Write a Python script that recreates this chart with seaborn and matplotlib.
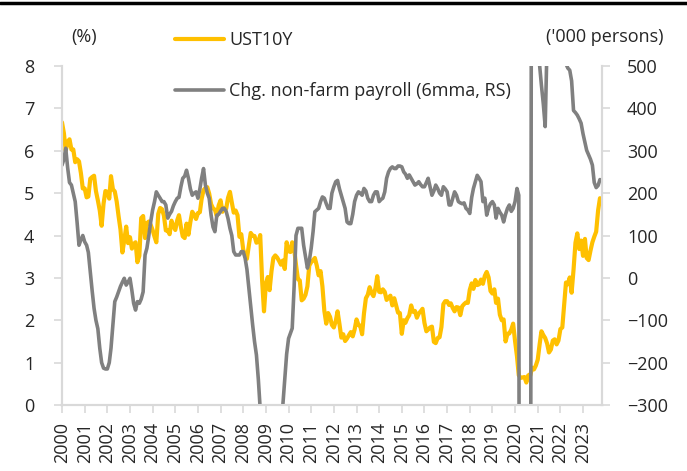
import matplotlib
matplotlib.use("Agg")
import matplotlib.pyplot as plt
import matplotlib.dates as mdates
from matplotlib.lines import Line2D
import numpy as np
import pandas as pd
import seaborn as sns

# ---------------------------------------------------------------------------
# Data (monthly, Jan 2000 - Oct 2023)
# ---------------------------------------------------------------------------
ust10y = [
    6.67, 6.41, 6.00, 6.21, 6.27, 6.03, 6.03, 5.73, 5.80, 5.75, 5.47, 5.11,   # 2000
    5.11, 4.90, 4.92, 5.34, 5.38, 5.41, 5.05, 4.83, 4.59, 4.23, 4.75, 5.05,   # 2001
    5.03, 4.87, 5.40, 5.09, 5.04, 4.80, 4.46, 4.14, 3.60, 3.89, 4.21, 3.82,   # 2002
    3.96, 3.69, 3.80, 3.84, 3.37, 3.52, 4.41, 4.46, 3.94, 4.29, 4.33, 4.25,   # 2003
    4.13, 3.97, 3.84, 4.51, 4.65, 4.62, 4.47, 4.12, 4.12, 4.03, 4.35, 4.22,   # 2004
    4.13, 4.36, 4.48, 4.20, 3.98, 3.94, 4.28, 4.02, 4.32, 4.56, 4.49, 4.39,   # 2005
    4.53, 4.55, 4.86, 5.07, 5.12, 5.14, 4.99, 4.74, 4.64, 4.61, 4.46, 4.71,   # 2006
    4.83, 4.56, 4.65, 4.63, 4.89, 5.03, 4.78, 4.54, 4.59, 4.48, 3.97, 4.03,   # 2007
    3.67, 3.53, 3.45, 3.77, 4.06, 3.99, 3.99, 3.83, 3.85, 4.01, 2.93, 2.21,   # 2008
    2.87, 3.02, 2.71, 3.16, 3.47, 3.53, 3.48, 3.40, 3.31, 3.41, 3.21, 3.84,   # 2009
    3.63, 3.61, 3.84, 3.69, 3.31, 2.97, 2.94, 2.47, 2.51, 2.60, 2.80, 3.29,   # 2010
    3.37, 3.42, 3.47, 3.29, 3.06, 3.16, 2.80, 2.22, 1.92, 2.17, 2.08, 1.89,   # 2011
    1.83, 1.98, 2.21, 1.91, 1.59, 1.67, 1.51, 1.57, 1.65, 1.72, 1.62, 1.78,   # 2012
    2.02, 1.89, 1.87, 1.67, 2.16, 2.52, 2.60, 2.78, 2.64, 2.57, 2.75, 3.04,   # 2013
    2.67, 2.66, 2.73, 2.67, 2.48, 2.53, 2.58, 2.35, 2.52, 2.35, 2.18, 2.17,   # 2014
    1.68, 2.00, 1.94, 2.05, 2.12, 2.35, 2.20, 2.22, 2.06, 2.16, 2.21, 2.27,   # 2015
    1.94, 1.74, 1.78, 1.83, 1.85, 1.49, 1.46, 1.58, 1.60, 1.84, 2.38, 2.45,   # 2016
    2.45, 2.36, 2.40, 2.29, 2.21, 2.31, 2.30, 2.12, 2.33, 2.38, 2.42, 2.41,   # 2017
    2.72, 2.87, 2.74, 2.95, 2.83, 2.85, 2.96, 2.86, 3.05, 3.14, 3.01, 2.69,   # 2018
    2.63, 2.73, 2.41, 2.51, 2.13, 2.00, 2.02, 1.50, 1.68, 1.69, 1.78, 1.92,   # 2019
    1.51, 1.15, 0.70, 0.64, 0.65, 0.66, 0.53, 0.70, 0.69, 0.88, 0.84, 0.93,   # 2020
    1.07, 1.44, 1.74, 1.65, 1.58, 1.45, 1.24, 1.31, 1.52, 1.55, 1.43, 1.52,   # 2021
    1.79, 1.83, 2.32, 2.89, 2.85, 3.01, 2.65, 3.19, 3.83, 4.05, 3.68, 3.88,   # 2022
    3.52, 3.92, 3.47, 3.42, 3.64, 3.84, 3.97, 4.09, 4.59, 4.88,               # 2023
]

nfp_6mma = [
    266, 280, 306, 260, 225, 219, 200, 180, 130, 77, 90, 100,                 # 2000
    85, 77, 60, 14, -30, -72, -100, -120, -166, -200, -213, -215,             # 2001
    -215, -200, -166, -110, -56, -45, -33, -20, -10, -1, -17, -10,            # 2002
    -1, -30, -60, -76, -56, -60, -50, -33, 54, 70, 100, 132,                  # 2003
    160, 180, 203, 195, 188, 180, 180, 172, 141, 150, 157, 170,               # 2004
    180, 188, 190, 215, 235, 240, 254, 235, 210, 195, 200, 203,               # 2005
    188, 210, 235, 258, 219, 200, 188, 148, 120, 109, 148, 150,               # 2006
    157, 164, 164, 157, 140, 117, 100, 62, 54, 54, 54, 62,                    # 2007
    62, 46, 20, -25, -70, -111, -150, -182, -240, -310, -420, -520,           # 2008
    -600, -680, -720, -730, -700, -620, -530, -450, -380, -300, -240, -180,   # 2009
    -143, -130, -119, -20, 100, 117, 117, 117, 77, 50, 23, 40,                # 2010
    70, 110, 156, 160, 164, 180, 191, 188, 175, 164, 164, 200,                # 2011
    215, 227, 230, 210, 195, 180, 164, 132, 128, 128, 150, 180,               # 2012
    195, 203, 200, 195, 211, 205, 188, 180, 180, 195, 203, 203,               # 2013
    180, 185, 188, 203, 235, 250, 258, 262, 258, 258, 264, 264,               # 2014
    262, 250, 245, 235, 243, 235, 227, 219, 222, 227, 220, 215,               # 2015
    215, 225, 235, 215, 195, 205, 219, 211, 200, 195, 215, 210,               # 2016
    203, 172, 172, 188, 203, 195, 180, 177, 175, 177, 164, 160,               # 2017
    152, 190, 211, 227, 242, 235, 227, 180, 188, 148, 165, 175,               # 2018
    180, 172, 141, 164, 155, 148, 132, 150, 164, 172, 157, 164,               # 2019
    180, 211, 195, -3400, -3000, -2300, -2000, -1700, -1500, 2035, 1625, 783, # 2020
    560, 500, 455, 410, 357, 560, 640, 640, 600, 580, 560, 590,               # 2021
    600, 580, 530, 505, 495, 490, 465, 395, 390, 384, 375, 365,               # 2022
    340, 320, 301, 290, 280, 266, 225, 213, 218, 232,                         # 2023
]

dates = pd.date_range("2000-01-01", periods=len(ust10y), freq="MS")
year_ticks = list(range(2000, 2024))

YELLOW = "#FFC000"
GREY = "#808080"
SPINE = "#D9D9D9"
FS = 13

# ---------------------------------------------------------------------------
# Plot
# ---------------------------------------------------------------------------
sns.set_style("white")
plt.rcParams["font.family"] = ["Open Sans", "DejaVu Sans"]
plt.rcParams["font.size"] = FS

fig = plt.figure(figsize=(6.87, 4.71), dpi=100)
ax = fig.add_axes([62 / 687, 1 - 405 / 471, 540 / 687, 339 / 471])
ax2 = ax.twinx()

df = pd.DataFrame({"date": dates, "ust": ust10y, "nfp": nfp_6mma})
sns.lineplot(data=df, x="date", y="ust", ax=ax, color=YELLOW, linewidth=3.0)
sns.lineplot(data=df, x="date", y="nfp", ax=ax2, color=GREY, linewidth=2.6)

ax.set_xlim(pd.Timestamp("2000-01-01"), pd.Timestamp("2023-11-03"))
ax.set_ylim(0, 8)
ax2.set_ylim(-300, 500)
ax.set_yticks(range(0, 9))
ax2.set_yticks(range(-300, 501, 100))
ax.set_xticks([pd.Timestamp(f"{y}-01-01") for y in year_ticks])
ax.xaxis.set_major_formatter(mdates.DateFormatter("%Y"))
ax.set_xlabel("")
ax.set_ylabel("")
ax2.set_ylabel("")

for a in (ax, ax2):
    a.spines["top"].set_visible(False)
    for side in ("left", "right", "bottom"):
        a.spines[side].set_color(SPINE)
        a.spines[side].set_linewidth(1.5)

ax.tick_params(axis="y", length=6, width=1.2, color=SPINE, pad=14, labelsize=FS, left=True)
ax2.tick_params(axis="y", length=6, width=1.2, color=SPINE, pad=12, labelsize=FS, right=True)
ax.tick_params(axis="x", length=6, width=1.2, color=SPINE, pad=6, labelsize=FS,
               labelrotation=90, bottom=True)

fig.text(84 / 687, 1 - 37 / 471, "(%)", ha="center", va="center", fontsize=FS)
fig.text(663 / 687, 1 - 37 / 471, "('000 persons)", ha="right", va="center", fontsize=FS)

handles = [Line2D([], [], color=YELLOW, lw=3.0), Line2D([], [], color=GREY, lw=2.6)]
ax.legend(handles, ["UST10Y", "Chg. non-farm payroll (6mma, RS)"],
          loc="upper left", bbox_to_anchor=(175 / 687, 1 - 31 / 471),
          bbox_transform=fig.transFigure, frameon=False, fontsize=FS,
          handlelength=2.7, handletextpad=0.3, labelspacing=1.85,
          borderpad=0, borderaxespad=0)

fig.add_artist(Line2D([0, 1], [1 - 3 / 471, 1 - 3 / 471], color="black", lw=2.5,
                      transform=fig.transFigure))

fig.savefig("out.png", dpi=100)
